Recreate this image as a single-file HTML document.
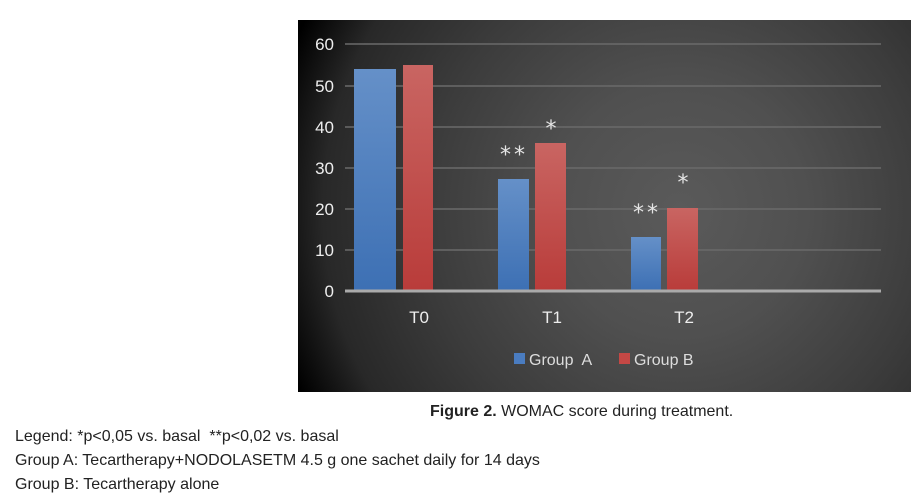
<!DOCTYPE html>
<html><head><style>
body{margin:0;width:911px;height:501px;background:#fff;position:relative;overflow:hidden;font-family:"Liberation Sans",sans-serif}
.t{position:absolute;font-size:16px;color:#222;white-space:nowrap}
</style></head><body>
<svg width="911" height="501" style="position:absolute;left:0;top:0">
<defs>
<radialGradient id="bg" cx="680" cy="210" r="420" gradientUnits="userSpaceOnUse">
<stop offset="0" stop-color="#5a5a5a"/><stop offset="0.3" stop-color="#505050"/><stop offset="0.6" stop-color="#3c3c3c"/><stop offset="0.85" stop-color="#282828"/><stop offset="1" stop-color="#000"/>
</radialGradient>
<linearGradient id="ga" x1="0" y1="0" x2="0" y2="1"><stop offset="0" stop-color="#6590c8"/><stop offset="1" stop-color="#3d70b4"/></linearGradient>
<linearGradient id="gb" x1="0" y1="0" x2="0" y2="1"><stop offset="0" stop-color="#c96562"/><stop offset="1" stop-color="#b93c3a"/></linearGradient>
</defs>
<rect x="298" y="20" width="613" height="372" fill="url(#bg)"/>
<g stroke="#6a6a6a" stroke-width="1.5">
<line x1="345" y1="44" x2="881" y2="44"/><line x1="345" y1="86" x2="881" y2="86"/><line x1="345" y1="127" x2="881" y2="127"/><line x1="345" y1="168" x2="881" y2="168"/><line x1="345" y1="209" x2="881" y2="209"/><line x1="345" y1="250" x2="881" y2="250"/>
</g>
<rect x="354" y="69" width="42" height="221" fill="url(#ga)"/>
<rect x="403" y="65" width="30" height="225" fill="url(#gb)"/>
<rect x="498" y="179" width="31" height="111" fill="url(#ga)"/>
<rect x="535" y="143" width="31" height="147" fill="url(#gb)"/>
<rect x="631" y="237" width="30" height="53" fill="url(#ga)"/>
<rect x="667" y="208" width="31" height="82" fill="url(#gb)"/>
<line x1="345" y1="291" x2="881" y2="291" stroke="#aaa" stroke-width="3"/>
<g fill="#eee" font-family="Liberation Sans,sans-serif" font-size="17" text-anchor="end">
<text x="334" y="50">60</text><text x="334" y="92">50</text><text x="334" y="133">40</text><text x="334" y="174">30</text><text x="334" y="215">20</text><text x="334" y="256">10</text><text x="334" y="297">0</text>
</g>
<g fill="#eee" font-family="Liberation Sans,sans-serif" font-size="17" text-anchor="middle">
<text x="419" y="323">T0</text><text x="552" y="323">T1</text><text x="684" y="323">T2</text>
</g>
<g fill="#e4e4e4" font-family="DejaVu Sans,sans-serif" font-size="22" text-anchor="middle">
<text x="514" y="162" letter-spacing="3">**</text><text x="551" y="136">*</text>
<text x="647" y="220" letter-spacing="3">**</text><text x="683" y="190">*</text>
</g>
<rect x="514" y="353" width="11" height="11" fill="#4a7cc0"/>
<rect x="619" y="353" width="11" height="11" fill="#c44845"/>
<g fill="#ddd" font-family="Liberation Sans,sans-serif" font-size="16">
<text x="529" y="365" xml:space="preserve">Group  A</text><text x="634" y="365">Group B</text>
</g>
</svg>
<div class="t" style="left:430px;top:403px"><b>Figure 2.</b> WOMAC score during treatment.</div>
<div class="t" style="left:15px;top:428px">Legend: *p&lt;0,05 vs. basal &nbsp;**p&lt;0,02 vs. basal</div>
<div class="t" style="left:15px;top:452px">Group A: Tecartherapy+NODOLASETM 4.5 g one sachet daily for 14 days</div>
<div class="t" style="left:15px;top:476px">Group B: Tecartherapy alone</div>
</body></html>
